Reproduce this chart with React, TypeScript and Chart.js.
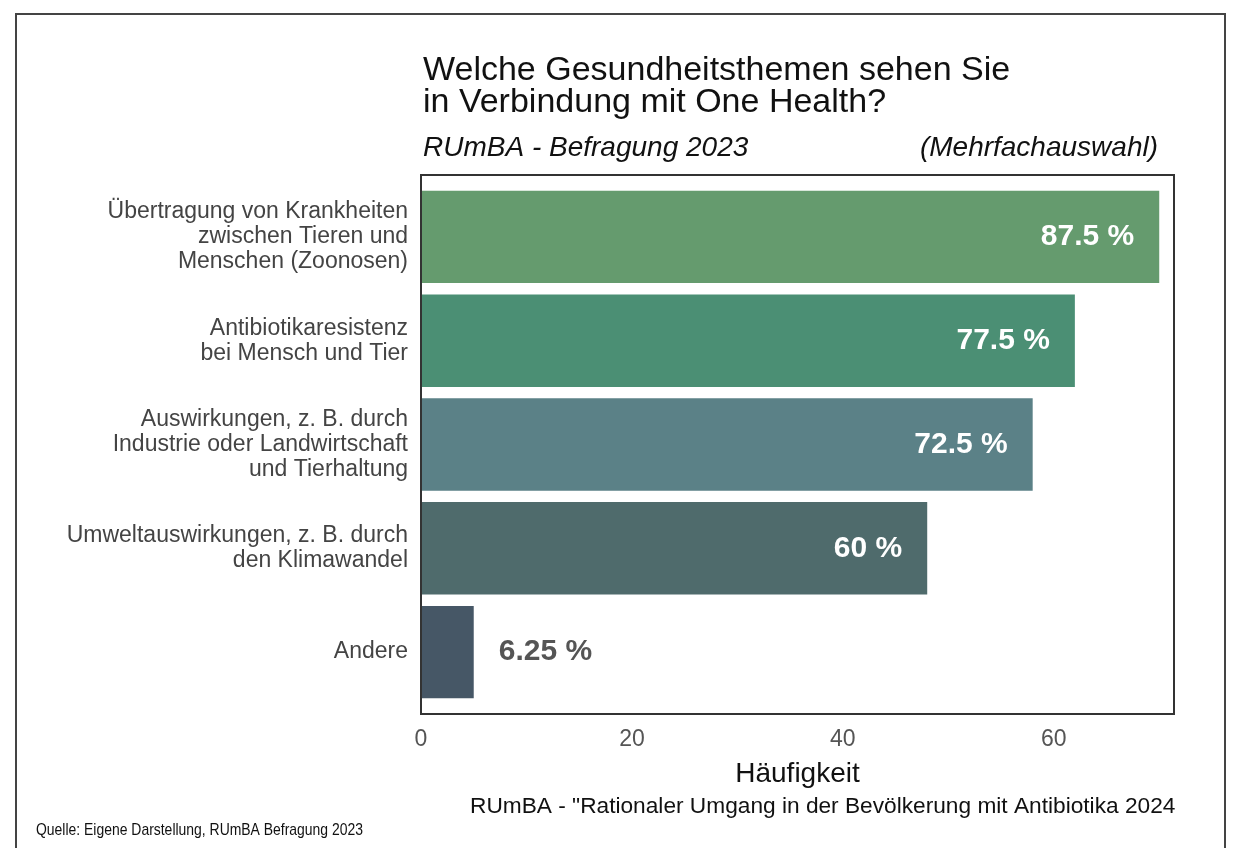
import React, { useEffect, useRef } from "react";
import { Chart, registerables } from "chart.js";

Chart.register(...registerables);

const categories: string[][] = [
  ["Übertragung von Krankheiten", "zwischen Tieren und", "Menschen (Zoonosen)"],
  ["Antibiotikaresistenz", "bei Mensch und Tier"],
  ["Auswirkungen, z. B. durch", "Industrie oder Landwirtschaft", "und Tierhaltung"],
  ["Umweltauswirkungen, z. B. durch", "den Klimawandel"],
  ["Andere"],
];
const counts: number[] = [70, 62, 58, 48, 5];
const percentLabels: string[] = ["87.5 %", "77.5 %", "72.5 %", "60 %", "6.25 %"];
const barColors: string[] = ["#659B6E", "#4B8F74", "#5B8187", "#4F6B6C", "#465766"];
const xTicks: number[] = [0, 20, 40, 60];

const titleLines: string[] = ["Welche Gesundheitsthemen sehen Sie", "in Verbindung mit One Health?"];
const subtitleLeft = "RUmBA - Befragung 2023";
const subtitleRight = "(Mehrfachauswahl)";
const xTitle = "Häufigkeit";
const footer = "RUmBA - \"Rationaler Umgang in der Bevölkerung mit Antibiotika 2024";
const source = "Quelle: Eigene Darstellung, RUmBA Befragung 2023";

const FONT = "'Liberation Sans', Arial, Helvetica, sans-serif";

const decorPlugin = {
  id: "decor",
  afterDraw(chart: any) {
    const ctx = chart.ctx as CanvasRenderingContext2D;
    const area = chart.chartArea;
    ctx.save();
    // outer frame
    ctx.strokeStyle = "#444";
    ctx.lineWidth = 2;
    ctx.beginPath();
    ctx.moveTo(16, 860);
    ctx.lineTo(16, 14);
    ctx.lineTo(1225, 14);
    ctx.lineTo(1225, 860);
    ctx.stroke();

    // plot box
    ctx.strokeStyle = "#333";
    ctx.lineWidth = 2;
    ctx.strokeRect(area.left, area.top - 10, area.right - area.left, area.bottom - area.top + 20);

    // titles
    ctx.fillStyle = "#111";
    ctx.textAlign = "left";
    ctx.textBaseline = "alphabetic";
    ctx.font = `34px ${FONT}`;
    ctx.fillText(titleLines[0], 423, 80);
    ctx.fillText(titleLines[1], 423, 112);
    ctx.font = `italic 28px ${FONT}`;
    ctx.fillText(subtitleLeft, 423, 156);
    ctx.textAlign = "right";
    ctx.fillText(subtitleRight, 1158, 156);

    // x axis title
    ctx.textAlign = "center";
    ctx.font = `28px ${FONT}`;
    ctx.fillStyle = "#111";
    ctx.fillText(xTitle, (area.left + area.right) / 2, 782);

    // footer
    ctx.textAlign = "left";
    ctx.font = `22.7px ${FONT}`;
    ctx.fillStyle = "#111";
    ctx.fillText(footer, 470, 813);

    // source note (condensed)
    ctx.font = `17px ${FONT}`;
    const w = ctx.measureText(source).width;
    const sx = 327 / w;
    ctx.save();
    ctx.translate(36, 835);
    ctx.scale(sx, 1);
    ctx.fillText(source, 0, 0);
    ctx.restore();

    // data labels
    const meta = chart.getDatasetMeta(0);
    meta.data.forEach((bar: any, i: number) => {
      const v = counts[i];
      ctx.font = `bold 30px ${FONT}`;
      ctx.textBaseline = "middle";
      if (v > 10) {
        ctx.fillStyle = "#ffffff";
        ctx.textAlign = "right";
        ctx.fillText(percentLabels[i], bar.x - 25, bar.y);
      } else {
        ctx.fillStyle = "#555";
        ctx.textAlign = "left";
        ctx.fillText(percentLabels[i], bar.x + 25, bar.y);
      }
    });
    ctx.restore();
  },
};

export default function App() {
  const ref = useRef<HTMLCanvasElement | null>(null);
  useEffect(() => {
    if (!ref.current) return;
    const chart = new Chart(ref.current, {
      type: "bar",
      data: {
        labels: categories as any,
        datasets: [
          {
            data: counts,
            backgroundColor: barColors,
            borderWidth: 0,
            barPercentage: 0.89,
            categoryPercentage: 1,
          },
        ],
      },
      options: {
        indexAxis: "y",
        responsive: false,
        animation: false,
        devicePixelRatio: 1,
        layout: { padding: { top: 185, right: 65, left: 0, bottom: 0 } },
        plugins: {
          legend: { display: false },
          tooltip: { enabled: false },
          title: { display: false },
        },
        scales: {
          x: {
            type: "linear",
            min: 0,
            max: 71.4,
            grid: { display: false, drawTicks: false },
            border: { display: false },
            afterFit(scale: any) {
              scale.height = 144;
            },
            afterBuildTicks(scale: any) {
              scale.ticks = xTicks.map((v) => ({ value: v }));
            },
            ticks: {
              font: { family: FONT, size: 23 },
              color: "#555",
              padding: 22,
              maxRotation: 0,
            },
          },
          y: {
            grid: { display: false, drawTicks: false },
            border: { display: false },
            afterFit(scale: any) {
              scale.width = 421;
            },
            ticks: {
              font: { family: FONT, size: 23, lineHeight: 1.087 },
              color: "#444",
              padding: 13,
              autoSkip: false,
            },
          },
        },
      },
      plugins: [decorPlugin],
    } as any);
    return () => chart.destroy();
  }, []);
  return (
    <div style={{ position: "absolute", left: 0, top: 0, width: 1239, height: 848, background: "#fff" }}>
      <canvas ref={ref} width={1239} height={848} style={{ width: 1239, height: 848, display: "block" }} />
    </div>
  );
}
